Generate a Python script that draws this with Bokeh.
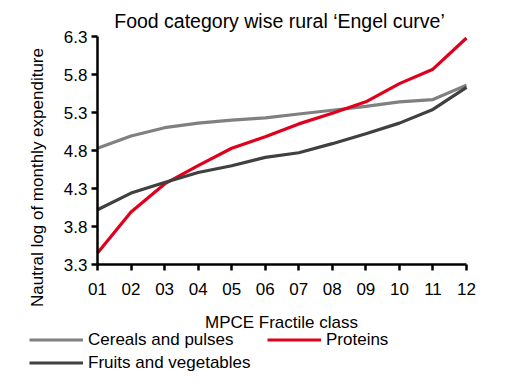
import math
from bokeh.plotting import figure
from bokeh.models import Range1d, FixedTicker, Legend, LegendItem, LinearAxis, Label
from bokeh.embed import file_html
from bokeh.resources import INLINE

classes = ["01", "02", "03", "04", "05", "06", "07", "08", "09", "10", "11", "12"]
cereals = [4.83, 4.99, 5.10, 5.16, 5.20, 5.23, 5.28, 5.33, 5.38, 5.44, 5.47, 5.66]
proteins = [3.45, 3.99, 4.36, 4.60, 4.83, 4.98, 5.15, 5.29, 5.44, 5.68, 5.87, 6.28]
fruits = [4.02, 4.24, 4.38, 4.51, 4.60, 4.71, 4.77, 4.89, 5.02, 5.16, 5.34, 5.63]
y_ticks = [3.3, 3.8, 4.3, 4.8, 5.3, 5.8, 6.3]
series_names = ["Cereals and pulses", "Proteins", "Fruits and vegetables"]
series_colors = ["#808080", "#e0001b", "#404040"]

FONT = "Liberation Sans"
W, H = 505, 380
# pixel placement of the plotting area
PX_L, PX_R, PX_T, PX_B = 97, 466, 36, 264
xs = list(range(1, len(classes) + 1))
x0, x1 = xs[0], xs[-1]
y0, y1 = y_ticks[0], y_ticks[-1]
sx = (PX_R - PX_L) / (x1 - x0)
sy = (PX_B - PX_T) / (y1 - y0)


def dx(px):
    return x0 + (px - PX_L) / sx


def dy(py):
    return y1 - (py - PX_T) / sy


p = figure(width=W, height=H, output_backend="svg", toolbar_location=None,
           x_range=Range1d(dx(0), dx(W)), y_range=Range1d(dy(H), dy(0)),
           x_axis_type=None, y_axis_type=None,
           min_border_left=0, min_border_right=0, min_border_top=0, min_border_bottom=0)
p.outline_line_color = None
p.xgrid.grid_line_color = None
p.ygrid.grid_line_color = None

xaxis = LinearAxis(fixed_location=y0, bounds=(x0, x1), ticker=FixedTicker(ticks=xs),
                   major_label_overrides={x: c for x, c in zip(xs, classes)})
yaxis = LinearAxis(fixed_location=x0, bounds=(y0, y1), ticker=FixedTicker(ticks=y_ticks),
                   major_label_overrides={t: f"{t:.1f}" for t in y_ticks})
for ax in (xaxis, yaxis):
    ax.axis_line_width = 2.5
    ax.axis_line_color = "black"
    ax.major_tick_line_width = 2.5
    ax.major_tick_line_color = "black"
    ax.major_tick_out = 6
    ax.major_tick_in = 0
    ax.minor_tick_line_color = None
    ax.major_label_text_font = FONT
    ax.major_label_text_font_size = "17px"
    ax.major_label_text_color = "black"
xaxis.major_label_standoff = 12
yaxis.major_label_standoff = 4
p.add_layout(xaxis, "below")
p.add_layout(yaxis, "left")

renderers = []
for vals, col in zip([cereals, proteins, fruits], series_colors):
    renderers.append(p.line(xs, vals, line_color=col, line_width=3.2))

p.add_layout(Label(x=dx(279), y=dy(20), text="Food category wise rural \u2018Engel curve\u2019",
                   text_font=FONT, text_font_size="19.5px", text_color="black",
                   text_align="center", text_baseline="alphabetic"))
p.add_layout(Label(x=dx(281), y=dy(322), text="MPCE Fractile class",
                   text_font=FONT, text_font_size="17px", text_color="black",
                   text_align="center", text_baseline="alphabetic"))
p.add_layout(Label(x=dx(37), y=dy(177), text="Nautral log of monthly expenditure",
                   angle=math.pi / 2, text_font=FONT, text_font_size="17px", text_color="black",
                   text_align="center", text_baseline="middle"))

legend = Legend(items=[LegendItem(label=n, renderers=[r]) for n, r in zip(series_names, renderers)],
                location=(29, 6), ncols=2, orientation="horizontal",
                glyph_width=54, glyph_height=23, label_height=23, label_width=179,
                label_standoff=5, spacing=0, padding=0, margin=0,
                border_line_alpha=0, background_fill_alpha=0,
                label_text_font=FONT, label_text_font_size="17px", label_text_color="black")
p.add_layout(legend, "center")

open("out.html", "w").write(file_html(p, INLINE))
